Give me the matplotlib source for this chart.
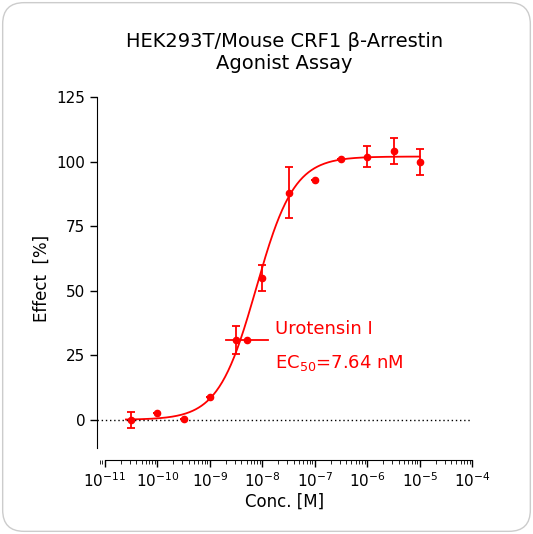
import numpy as np
import matplotlib.pyplot as plt
from matplotlib.patches import FancyBboxPatch

# data
log_conc = np.array([-10.5, -10, -9.5, -9, -8.5, -8, -7.5, -7, -6.5, -6, -5.5, -5])
effect = np.array([0, 2.5, 0.3, 9, 31, 55, 88, 93, 101, 102, 104, 100])
err = np.array([3, 0, 0, 0, 5.5, 5, 10, 0, 0, 4, 5, 5])
ec50 = 7.64e-9
top, bottom, hill = 102, 0, 1.2

red = '#ff0000'
fig = plt.figure(figsize=(5.33, 5.34), dpi=100)
border = FancyBboxPatch((0.005, 0.005), 0.99, 0.99, boxstyle='round,pad=0,rounding_size=0.04',
                        transform=fig.transFigure, fc='white', ec='#cccccc', lw=1, zorder=-10)
fig.patches.append(border)
ax = fig.add_axes([0.182, 0.139, 0.704, 0.679])
ax.set_facecolor('none')

xs = np.logspace(-10.6, -5, 300)
fit = bottom + (top - bottom) / (1 + (ec50 / xs) ** hill)
ax.plot(xs, fit, color=red, lw=1.3)
ax.errorbar(10.0 ** log_conc, effect, yerr=err, fmt='o', color=red, ms=4.5,
            capsize=3, elinewidth=1.3, capthick=1.3)
ax.axhline(0, color='black', lw=1, ls=(0, (1, 2)))

ax.set_xscale('log')
ax.set_xlim(10 ** -11.15, 1e-4)
ax.set_ylim(-15.5, 125)
ax.set_yticks([0, 25, 50, 75, 100, 125])
ax.set_xticks(10.0 ** np.arange(-11, -3))
ax.spines['top'].set_visible(False)
ax.spines['right'].set_visible(False)
ax.spines['left'].set_bounds(-11, 125)
ax.spines['bottom'].set_bounds(1e-11, 1e-4)
ax.tick_params(labelsize=11, width=1, length=5)
ax.tick_params(which='minor', length=3)
ax.set_xlabel('Conc. [M]', fontsize=12, labelpad=2)
ax.set_ylabel('Effect  [%]', fontsize=12)
ax.set_title('HEK293T/Mouse CRF1 β-Arrestin\nAgonist Assay', fontsize=14, pad=20)

ax.plot([10 ** -8.7, 10 ** -7.9], [31, 31], color=red, lw=1.3)
ax.plot([10 ** -8.3], [31], 'o', color=red, ms=4.5)
ax.text(10 ** -7.75, 35, 'Urotensin I', color=red, fontsize=13, va='center')
ax.text(10 ** -7.75, 22, 'EC$_{50}$=7.64 nM', color=red, fontsize=13, va='center')

fig.savefig('out.png', dpi=100)
